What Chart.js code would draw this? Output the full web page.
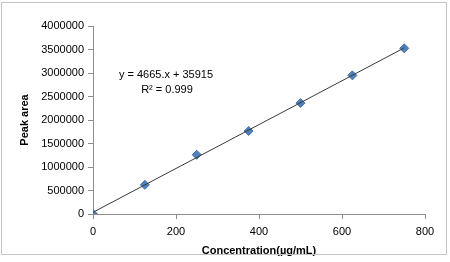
<!DOCTYPE html>
<html lang="en">
<head>
<meta charset="UTF-8">
<title>Peak area vs Concentration</title>
<script src="https://cdn.jsdelivr.net/npm/chart.js"></script>
<style>
    body { margin: 0; background: #ffffff; }
    #wrap { position: relative; width: 450px; height: 262px; }
</style>
</head>
<body>
<div id="wrap"><canvas id="myChart" width="450" height="262"></canvas></div>
<script>
// data
const concentration = [0, 125, 250, 375, 500, 625, 750];
const peakArea = [0, 620000, 1260000, 1765000, 2360000, 2950000, 3525000];
// trendline end points (from y = 4665x + 35915)
const trendX = [0, 750];
const trendY = [35915, 3534665];
const equationText = ['y = 4665.x + 35915', 'R\u00B2 = 0.999'];

const frame = {
    id: 'frame',
    afterDraw(chart) {
        const ctx = chart.ctx;
        ctx.save();
        ctx.strokeStyle = '#c4c4c4';
        ctx.lineWidth = 1;
        ctx.strokeRect(1.5, 2.5, 445, 252);
        ctx.fillStyle = '#000';
        ctx.font = '11px "Liberation Sans", Arial, sans-serif';
        ctx.textAlign = 'center';
        ctx.textBaseline = 'middle';
        ctx.fillText(equationText[0], 166, 75);
        ctx.fillText(equationText[1], 167, 90);
        ctx.restore();
    }
};

const tickFont = { family: '"Liberation Sans", Arial, sans-serif', size: 11 };
const titleFont = { family: '"Liberation Sans", Arial, sans-serif', size: 11, weight: 'bold' };
const plain = v => String(v);

new Chart(document.getElementById('myChart'), {
    type: 'scatter',
    data: {
        datasets: [
            {
                label: 'Trend',
                type: 'line',
                data: trendX.map((x, i) => ({ x: x, y: trendY[i] })),
                borderColor: '#3a3a3a',
                borderWidth: 1,
                pointRadius: 0,
                fill: false
            },
            {
                label: 'Peak area',
                data: concentration.map((x, i) => ({ x: x, y: peakArea[i] })),
                pointStyle: 'rectRot',
                pointRadius: 4.5,
                backgroundColor: '#4f81bd',
                borderColor: '#3f6fa8',
                borderWidth: 1
            }
        ]
    },
    options: {
        responsive: false,
        animation: false,
        layout: { padding: { top: 26, right: 25, left: 0, bottom: 0 } },
        plugins: { legend: { display: false }, tooltip: { enabled: false } },
        scales: {
            x: {
                type: 'linear',
                min: 0, max: 800,
                afterFit(s) { s.height = 48; },
                ticks: { stepSize: 200, color: '#000', font: tickFont, padding: 6, callback: plain },
                grid: { drawOnChartArea: false, drawTicks: true, tickLength: 5, color: '#8c8c8c' },
                border: { color: '#8c8c8c' },
                title: { display: true, text: 'Concentration(\u00B5g/mL)', color: '#000', font: titleFont, padding: { top: 4 } }
            },
            y: {
                min: 0, max: 4000000,
                afterFit(s) { s.width = 93; },
                ticks: { stepSize: 500000, color: '#000', font: tickFont, padding: 4, callback: plain },
                grid: { drawOnChartArea: false, drawTicks: true, tickLength: 5, color: '#8c8c8c' },
                border: { color: '#8c8c8c' },
                title: { display: true, text: 'Peak area', color: '#000', font: titleFont, padding: { top: 18, bottom: 4 } }
            }
        }
    },
    plugins: [frame]
});
</script>
</body>
</html>
